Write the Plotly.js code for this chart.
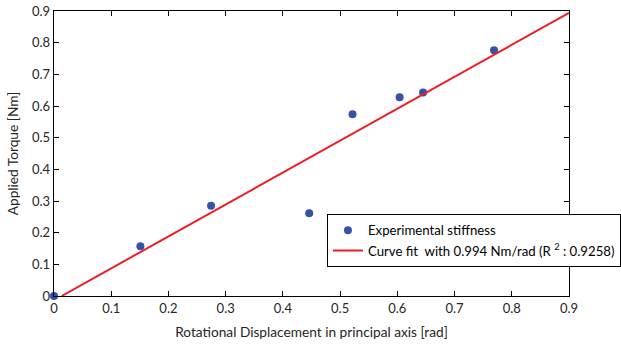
<!DOCTYPE html>
<html>
<head>
<meta charset="utf-8">
<script src="https://cdn.plot.ly/plotly-3.0.1.min.js"></script>
<style>html,body{margin:0;padding:0;background:#fff;}#chart{width:621px;height:346px;}</style>
</head>
<body>
<div id="chart"></div>
<script>
var dispRad = [0, 0.151, 0.2745, 0.446, 0.5217, 0.604, 0.645, 0.769];
var torqueNm = [0, 0.157, 0.285, 0.261, 0.574, 0.628, 0.643, 0.776];
// Fitted line end points
var fitX = [0.0134, 0.9];
var fitY = [0, 0.894];
var xTicks = [0, 0.1, 0.2, 0.3, 0.4, 0.5, 0.6, 0.7, 0.8, 0.9];
var yTicks = [0, 0.1, 0.2, 0.3, 0.4, 0.5, 0.6, 0.7, 0.8, 0.9];

var FONT = 'Lato, "Open Sans", sans-serif';

var traces = [
  {
    x: dispRad, y: torqueNm, type: 'scatter', mode: 'markers',
    name: 'Experimental stiffness',
    marker: {color: '#3552a6', size: 8, symbol: 'circle'},
    cliponaxis: false
  },
  {
    x: fitX, y: fitY, type: 'scatter', mode: 'lines',
    name: 'Curve fit  with 0.994 Nm/rad (R <sup>2</sup> : 0.9258)',
    line: {color: '#ee1c24', width: 2}
  }
];

var axisCommon = {
  showgrid: false, zeroline: false, showline: true, linecolor: '#000', linewidth: 1.3,
  mirror: 'ticks', ticks: 'inside', ticklen: 5, tickwidth: 1, tickcolor: '#000',
  tickfont: {family: FONT, size: 13, color: '#262626'}, automargin: false
};

var layout = {
  width: 621, height: 346,
  margin: {l: 54, r: 52, t: 11, b: 50, autoexpand: false},
  paper_bgcolor: '#fff', plot_bgcolor: '#fff',
  font: {family: FONT, size: 13, color: '#262626'},
  showlegend: true,
  xaxis: Object.assign({}, axisCommon, {
    range: [0, 0.9], tickvals: xTicks, ticktext: xTicks.map(String),
    title: {text: 'Rotational Displacement in principal axis [rad]', font: {family: FONT, size: 13.7, color: '#262626'}, standoff: 12}
  }),
  yaxis: Object.assign({}, axisCommon, {
    range: [0, 0.9], tickvals: yTicks, ticktext: yTicks.map(String),
    title: {text: 'Applied Torque [Nm]', font: {family: FONT, size: 13.7, color: '#262626'}, standoff: 10}
  }),
  legend: {
    x: 0.53, y: 0.287, xanchor: 'left', yanchor: 'top',
    bgcolor: '#fff', bordercolor: '#000', borderwidth: 1,
    font: {family: FONT, size: 13.2, color: '#000'},
    itemwidth: 30, tracegroupgap: 0
  }
};

Plotly.newPlot('chart', traces, layout, {displayModeBar: false, staticPlot: true});
</script>
</body>
</html>
